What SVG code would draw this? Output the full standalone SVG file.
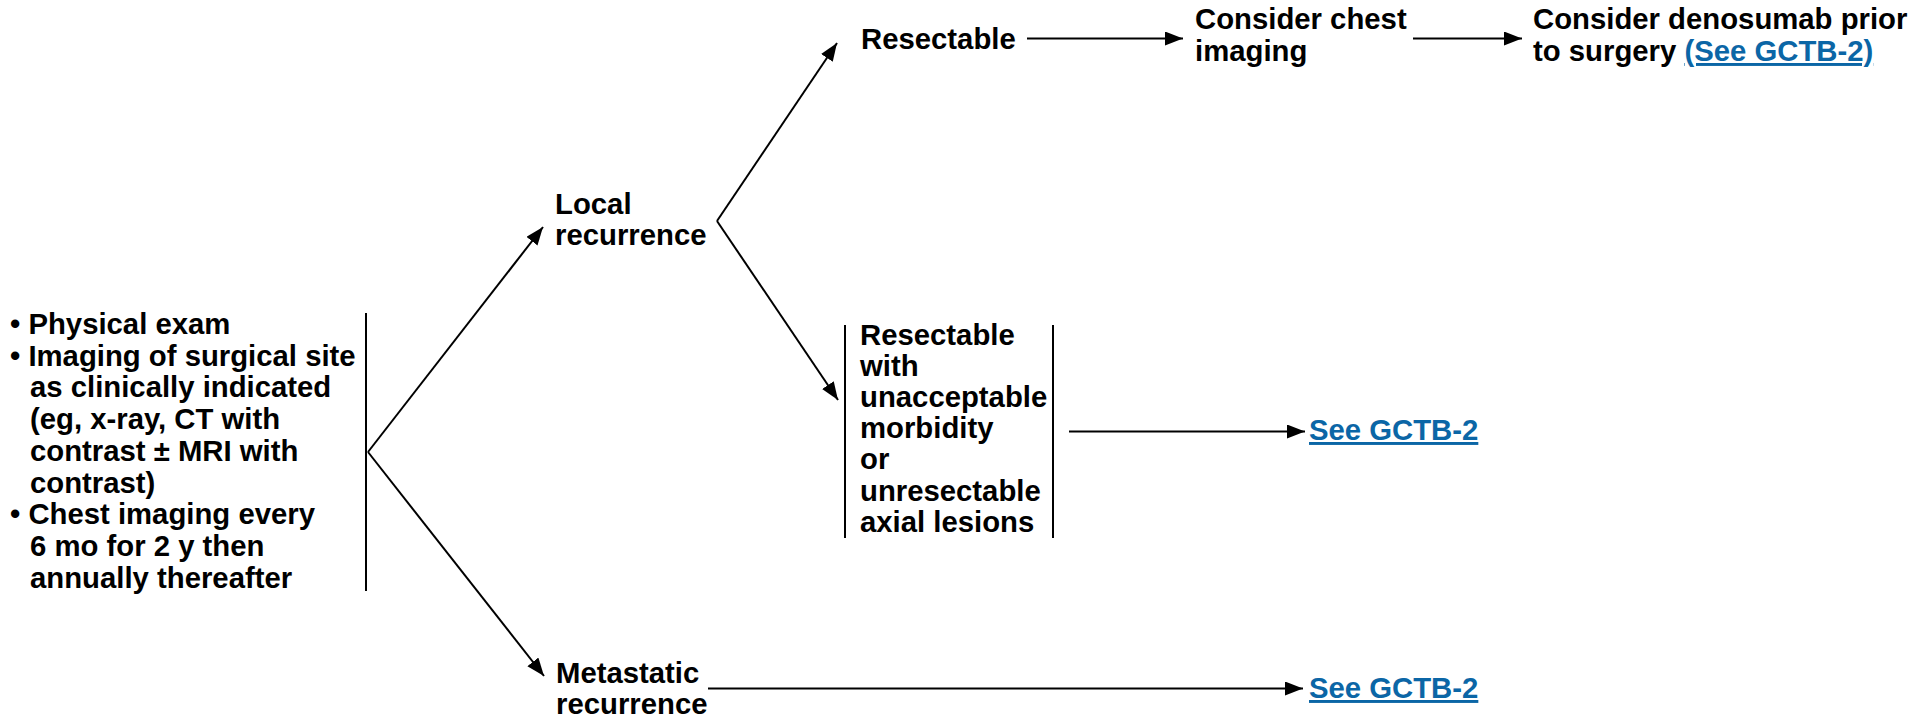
<svg xmlns="http://www.w3.org/2000/svg" width="1929" height="718" viewBox="0 0 1929 718">
  <style>
    text { font-family: "Liberation Sans", Arial, sans-serif; font-weight: bold; font-size: 29.3px; fill: #000; }
    .link { fill: #0b66a6; text-decoration: underline; }
    .conn { stroke: #000; stroke-width: 2; fill: none; }
    .bar { stroke: #000; stroke-width: 2; }
  </style>
  <defs>
    <marker id="arrow" markerUnits="userSpaceOnUse" markerWidth="20" markerHeight="16" refX="18" refY="7" orient="auto">
      <path d="M0,0 L18,7 L0,14 Z" fill="#000"/>
    </marker>
  </defs>

  <g id="follow-up">
    <text x="10" y="334">• Physical exam</text>
    <text x="10" y="365.7">• Imaging of surgical site</text>
    <text x="30" y="397.4">as clinically indicated</text>
    <text x="30" y="429.1">(eg, x-ray, CT with</text>
    <text x="30" y="460.8">contrast ± MRI with</text>
    <text x="30" y="492.5">contrast)</text>
    <text x="10" y="524.2">• Chest imaging every</text>
    <text x="30" y="555.9">6 mo for 2 y then</text>
    <text x="30" y="587.6">annually thereafter</text>
    <line class="bar" x1="366" y1="313" x2="366" y2="591"/>
  </g>

  <g id="local-recurrence">
    <text x="555" y="214">Local</text>
    <text x="555" y="245">recurrence</text>
  </g>

  <g id="metastatic-recurrence">
    <text x="556" y="683">Metastatic</text>
    <text x="556" y="714">recurrence</text>
  </g>

  <g id="resectable">
    <text x="861" y="49">Resectable</text>
  </g>

  <g id="chest-imaging">
    <text x="1195" y="29">Consider chest</text>
    <text x="1195" y="61">imaging</text>
  </g>

  <g id="denosumab">
    <text x="1533" y="29">Consider denosumab prior</text>
    <text x="1533" y="61">to surgery <tspan class="link">(See GCTB-2)</tspan></text>
  </g>

  <g id="unresectable">
    <line class="bar" x1="845" y1="325" x2="845" y2="538"/>
    <text x="860" y="344.5">Resectable</text>
    <text x="860" y="375.7">with</text>
    <text x="860" y="406.9">unacceptable</text>
    <text x="860" y="438.1">morbidity</text>
    <text x="860" y="469.3">or</text>
    <text x="860" y="500.5">unresectable</text>
    <text x="860" y="531.7">axial lesions</text>
    <line class="bar" x1="1053" y1="325" x2="1053" y2="538"/>
  </g>

  <g id="see-gctb2-local">
    <text class="link" x="1309" y="440">See GCTB-2</text>
  </g>

  <g id="see-gctb2-metastatic">
    <text class="link" x="1309" y="698">See GCTB-2</text>
  </g>

  <g id="connectors">
    <line class="conn" x1="368" y1="452" x2="543" y2="227" marker-end="url(#arrow)"/>
    <line class="conn" x1="368" y1="452" x2="544" y2="676" marker-end="url(#arrow)"/>
    <line class="conn" x1="717" y1="221" x2="837" y2="43" marker-end="url(#arrow)"/>
    <line class="conn" x1="717" y1="221" x2="838" y2="400" marker-end="url(#arrow)"/>
    <line class="conn" x1="1027" y1="38.5" x2="1183" y2="38.5" marker-end="url(#arrow)"/>
    <line class="conn" x1="1413" y1="38.5" x2="1522" y2="38.5" marker-end="url(#arrow)"/>
    <line class="conn" x1="1069" y1="431.5" x2="1305" y2="431.5" marker-end="url(#arrow)"/>
    <line class="conn" x1="708" y1="688.5" x2="1303" y2="688.5" marker-end="url(#arrow)"/>
  </g>
</svg>
